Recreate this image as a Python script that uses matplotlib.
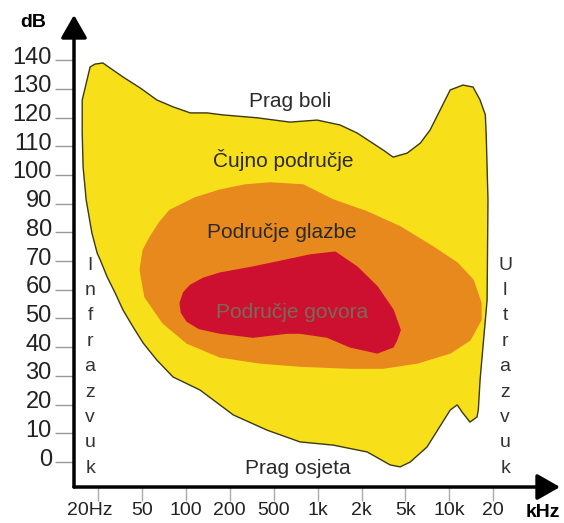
import matplotlib
matplotlib.use('Agg')
import matplotlib.pyplot as plt
from matplotlib.transforms import ScaledTranslation

plt.rcParams['font.family'] = ['Liberation Sans', 'DejaVu Sans']

# Data -----------------------------------------------------------
# x axis is a category axis: index 0..9 for the frequency labels
freq_labels = ['20Hz', '50', '100', '200', '500', '1k', '2k', '5k', '10k', '20']
db_ticks = [0, 10, 20, 30, 40, 50, 60, 70, 80, 90, 100, 110, 120, 130, 140]

# outline of the audible area (freq index, dB)
hearing_x = [0.11, 0.57, 0.96, 1.34, 1.71, 2.10, 2.48, 2.85, 3.62, 4.37, 4.99, 5.51,
             5.90, 6.49, 6.72, 7.04, 7.34, 7.56, 7.79, 8.02, 8.31, 8.54, 8.70, 8.82,
             8.84, 8.88, 8.86, 8.70, 8.66, 8.63, 8.47, 8.29, 8.18, 8.02, 7.49, 7.11,
             6.88, 6.65, 6.13, 5.35, 4.60, 3.85, 3.08, 2.32, 1.71, 1.34, 1.03, 0.80,
             0.57, 0.39, 0.21, 0.05, -0.02, -0.14, -0.27, -0.34, -0.36, -0.36, -0.18, -0.07]
hearing_db = [139.0, 134.1, 130.3, 126.1, 123.7, 121.6, 121.6, 120.9, 119.9, 118.4, 119.1, 117.4,
              114.6, 108.7, 106.2, 107.6, 111.1, 115.6, 122.6, 129.6, 131.3, 130.6, 126.1, 120.9,
              113.9, 91.3, 56.4, 28.6, 18.1, 15.7, 13.9, 17.4, 19.9, 18.1, 5.2, 0.0,
              -1.7, -1.0, 3.5, 5.9, 7.0, 11.1, 16.4, 25.1, 29.6, 35.5, 41.4, 47.0,
              52.9, 58.9, 64.4, 70.4, 72.8, 79.8, 91.3, 102.8, 114.6, 126.1, 137.6, 138.6]

# outline of the music area
music_x = [0.96, 1.03, 1.19, 1.41, 1.64, 2.21, 2.78, 3.35, 3.92, 4.67, 5.35, 6.13,
           6.88, 7.63, 8.18, 8.54, 8.72, 8.72, 8.47, 8.02, 7.27, 6.49, 5.74, 4.60,
           3.69, 2.78, 2.03, 1.48, 1.07]
music_db = [66.9, 73.8, 78.4, 83.6, 87.7, 92.0, 94.7, 96.5, 97.2, 96.5, 91.3, 87.1,
            81.9, 74.9, 69.3, 63.4, 55.4, 49.5, 42.5, 38.0, 34.5, 32.7, 32.7, 33.4,
            34.5, 36.6, 41.4, 48.4, 57.5]

# outline of the speech area
speech_x = [1.87, 1.95, 2.10, 2.40, 2.78, 3.53, 4.31, 4.83, 5.40, 5.90, 6.36, 6.72, 6.88,
            6.80, 6.72, 6.36, 5.74, 5.22, 4.60, 4.31, 3.53, 2.78, 2.30, 2.03, 1.90]
speech_db = [55.4, 59.0, 61.5, 64.0, 65.8, 67.9, 70.4, 72.1, 73.1, 67.9, 61.0, 52.9, 46.0,
             42.5, 40.1, 38.0, 40.1, 43.5, 44.9, 44.9, 43.5, 44.9, 46.5, 49.0, 52.0]

# Plot -----------------------------------------------------------
fig = plt.figure(figsize=(5.64, 5.23), dpi=100)
ax = fig.add_axes([0.1312, 0.0688, 0.8617, 0.9025])
ax.set_xlim(-0.547, 10.52)
ax.set_ylim(-8.71, 155.7)

ax.fill(hearing_x, hearing_db, color='#F7E01A', ec='#3a3a10', lw=1.0, zorder=1)
ax.fill(music_x, music_db, color='#E8891E', zorder=2)
ax.fill(speech_x, speech_db, color='#CE1030', zorder=3)

# labels inside the chart
txt = dict(ha='center', va='center', fontsize=15, color='#2a2a2a', zorder=5)
ax.text(4.37, 125.4, 'Prag boli', **txt)
ax.text(4.21, 105.2, 'Čujno područje', **txt)
ax.text(4.19, 79.8, 'Područje glazbe', **txt)
ax.text(4.42, 52.2, 'Područje govora', ha='center', va='center', fontsize=15,
        color='#7a6a5a', zorder=5)
ax.text(4.56, -2.1, 'Prag osjeta', **txt)

# vertical words
for i, ch in enumerate('Infrazvuk'):
    ax.text(-0.18, 68.6 - i * 8.85, ch, ha='center', va='center', fontsize=14, color='#333333')
for i, ch in enumerate('Ultrazvuk'):
    ax.text(9.27, 68.6 - i * 8.85, ch, ha='center', va='center', fontsize=14, color='#333333')

# axes and ticks
for s in ax.spines.values():
    s.set_visible(False)
ax.set_yticks(db_ticks)
ax.set_yticklabels([str(v) for v in db_ticks], fontsize=17, color='#222222')
ax.set_xticks(range(len(freq_labels)))
ax.set_xticklabels(freq_labels, fontsize=14, color='#222222')
ax.tick_params(axis='y', length=14, width=1, color='#999999', pad=2)
ax.tick_params(axis='x', length=10, width=1, color='#aaaaaa', pad=1)

for lab in ax.get_yticklabels():
    lab.set_transform(lab.get_transform() + ScaledTranslation(0, 0.05, fig.dpi_scale_trans))
first = ax.get_xticklabels()[0]
first.set_transform(first.get_transform() + ScaledTranslation(-0.08, 0, fig.dpi_scale_trans))

arrow = dict(arrowstyle='-|>,head_length=0.7,head_width=0.4', lw=2.5, color='black',
             shrinkA=0, shrinkB=0, mutation_scale=20)
ax.annotate('', xy=(0, 1), xytext=(0, 0), xycoords='axes fraction', arrowprops=arrow,
            annotation_clip=False)
ax.annotate('', xy=(1, 0), xytext=(0, 0), xycoords='axes fraction', arrowprops=arrow,
            annotation_clip=False)

ax.text(-0.084, 0.985, 'dB', transform=ax.transAxes, ha='center', va='center',
        fontsize=14, fontweight='bold')
ax.text(0.965, -0.055, 'kHz', transform=ax.transAxes, ha='center', va='center',
        fontsize=14, fontweight='bold')

fig.savefig('out.png', dpi=100)
